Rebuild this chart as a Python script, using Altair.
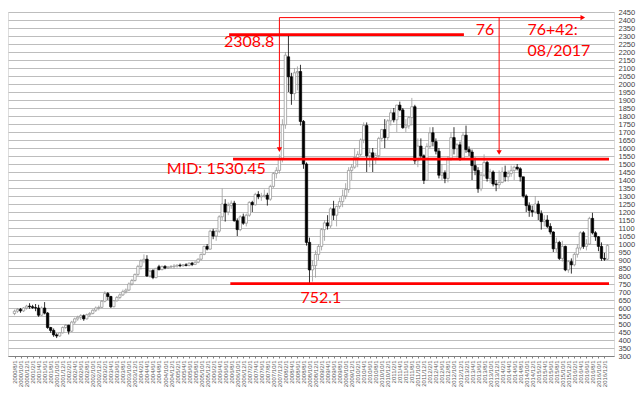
import json
import altair as alt
import pandas as pd

# ---- months (category labels) ----
months = []
_y, _m = 2000, 8
for _ in range(198):
    months.append(f"{_y}/{_m}/1")
    _m += 1
    if _m > 12:
        _m, _y = 1, _y + 1

# ---- monthly OHLC, one line per year (2000/8 .. 2017/1) ----
opens = [
    565, 580, 592, 582, 600,
    612, 608, 602, 600, 555, 600, 568, 478, 460, 432, 425, 445,
    478, 492, 455, 512, 532, 542, 552, 532, 558, 566, 586, 600,
    604, 642, 690, 672, 608, 645, 666, 682, 702, 712, 750, 772,
    810, 860, 895, 905, 800, 835, 790, 858, 840, 860, 850, 856,
    858, 862, 868, 864, 870, 866, 880, 872, 886, 905, 935, 985,
    968, 1080, 1050, 1080, 1170, 1250, 1200, 1240, 1255, 1145, 1090, 1170,
    1130, 1180, 1260, 1245, 1310, 1295, 1300, 1305, 1280, 1360, 1440, 1460,
    1530, 1745, 2170, 2045, 1940, 2070, 2078, 1766, 1500, 1010, 838, 865,
    935, 985, 1090, 1132, 1113, 1220, 1180, 1235, 1265, 1300, 1340, 1460,
    1480, 1540, 1560, 1650, 1740, 1551, 1570, 1540, 1552, 1660, 1715, 1665,
    1770, 1820, 1776, 1868, 1838, 1727, 1738, 1790, 1858, 1520, 1612, 1551,
    1398, 1610, 1695, 1640, 1580, 1430, 1445, 1410, 1530, 1665, 1595, 1620,
    1535, 1680, 1590, 1575, 1490, 1460, 1345, 1430, 1510, 1410, 1450, 1375,
    1370, 1385, 1450, 1420, 1440, 1460, 1480, 1470, 1420, 1300, 1240, 1210,
    1200, 1250, 1190, 1140, 1150, 1110, 1075, 970, 1010, 910, 985, 838,
    890, 870, 935, 975, 1070, 985, 1000, 1160, 1070, 1045, 985, 910,
    905,
]
highs = [
    590, 600, 600, 605, 620,
    630, 620, 625, 620, 610, 637, 575, 482, 472, 442, 450, 485,
    500, 495, 520, 540, 552, 562, 560, 565, 575, 592, 610, 615,
    650, 705, 700, 676, 650, 675, 692, 715, 722, 760, 782, 815,
    870, 905, 935, 930, 840, 842, 850, 870, 865, 868, 862, 868,
    875, 872, 878, 875, 880, 885, 888, 892, 910, 940, 990, 1000,
    1090, 1095, 1090, 1180, 1347, 1280, 1260, 1272, 1270, 1160, 1180, 1190,
    1190, 1268, 1270, 1320, 1330, 1320, 1340, 1320, 1370, 1450, 1480, 1560,
    1780, 2200, 2308.8, 2070, 2100, 2110, 2120, 1775, 1510, 1040, 900, 960,
    1000, 1100, 1150, 1180, 1230, 1270, 1240, 1290, 1340, 1380, 1480, 1500,
    1600, 1580, 1660, 1760, 1760, 1600, 1600, 1570, 1670, 1720, 1780, 1780,
    1840, 1850, 1870, 1890, 1850, 1780, 1800, 1913, 1870, 1660, 1660, 1560,
    1630, 1730, 1730, 1660, 1600, 1500, 1460, 1550, 1700, 1730, 1630, 1640,
    1700, 1740, 1610, 1590, 1540, 1480, 1450, 1560, 1520, 1470, 1460, 1400,
    1460, 1480, 1490, 1460, 1490, 1490, 1500, 1480, 1420, 1310, 1260, 1240,
    1300, 1270, 1210, 1180, 1180, 1130, 1080, 1040, 1020, 1020, 990, 900,
    910, 945, 1000, 1080, 1080, 1030, 1170, 1195, 1080, 1050, 1010, 945,
    1000,
]
lows = [
    555, 570, 570, 575, 590,
    595, 595, 580, 545, 550, 560, 470, 445, 420, 412, 420, 440,
    470, 435, 450, 500, 520, 525, 520, 528, 545, 560, 575, 585,
    600, 635, 650, 600, 604, 640, 655, 675, 690, 705, 740, 765,
    800, 840, 880, 795, 790, 780, 785, 835, 835, 842, 845, 848,
    845, 852, 855, 858, 860, 860, 862, 868, 880, 898, 930, 960,
    965, 1030, 1020, 1070, 1150, 1140, 1180, 1220, 1140, 1050, 1080, 1120,
    1110, 1170, 1200, 1240, 1280, 1270, 1290, 1240, 1270, 1350, 1410, 1440,
    1510, 1720, 1950, 1870, 1900, 1960, 1740, 1470, 990, 752.1, 765, 790,
    900, 960, 1020, 1090, 1100, 1150, 1110, 1220, 1230, 1280, 1320, 1400,
    1470, 1480, 1550, 1630, 1450, 1480, 1450, 1500, 1540, 1640, 1600, 1650,
    1740, 1760, 1700, 1830, 1720, 1700, 1720, 1740, 1500, 1480, 1530, 1375,
    1395, 1600, 1610, 1560, 1410, 1400, 1380, 1385, 1520, 1560, 1540, 1520,
    1530, 1570, 1550, 1400, 1430, 1320, 1330, 1420, 1390, 1380, 1360, 1330,
    1350, 1380, 1390, 1390, 1420, 1400, 1460, 1390, 1290, 1200, 1170, 1170,
    1190, 1150, 1090, 1110, 1100, 1060, 950, 950, 900, 890, 830, 820,
    815, 860, 915, 960, 970, 960, 995, 1060, 1020, 955, 895, 895,
    900,
]
closes = [
    580, 592, 582, 600, 612,
    608, 602, 600, 555, 600, 568, 478, 460, 432, 425, 445, 478,
    492, 455, 512, 532, 542, 552, 532, 558, 566, 586, 600, 604,
    642, 690, 672, 608, 645, 666, 682, 702, 712, 750, 772, 810,
    860, 895, 905, 800, 830, 790, 848, 840, 860, 850, 856, 860,
    862, 868, 864, 870, 866, 880, 872, 886, 905, 935, 985, 968,
    1080, 1050, 1080, 1170, 1250, 1200, 1240, 1255, 1145, 1090, 1170, 1130,
    1180, 1260, 1245, 1310, 1295, 1300, 1305, 1280, 1360, 1440, 1460, 1530,
    1745, 2180, 2045, 1940, 2070, 2078, 1766, 1500, 1010, 838, 865, 935,
    985, 1090, 1132, 1113, 1220, 1180, 1235, 1265, 1300, 1340, 1460, 1480,
    1540, 1560, 1650, 1740, 1551, 1570, 1540, 1552, 1660, 1715, 1665, 1770,
    1820, 1776, 1868, 1838, 1727, 1738, 1790, 1858, 1520, 1612, 1551, 1398,
    1610, 1695, 1640, 1580, 1430, 1445, 1410, 1530, 1665, 1595, 1620, 1535,
    1680, 1590, 1575, 1490, 1460, 1345, 1430, 1510, 1410, 1450, 1375, 1370,
    1385, 1450, 1420, 1440, 1460, 1480, 1470, 1420, 1300, 1240, 1210, 1200,
    1250, 1190, 1140, 1150, 1110, 1075, 970, 1010, 910, 985, 838, 890,
    870, 935, 975, 1070, 985, 1000, 1160, 1070, 1045, 985, 910, 905,
    990,
]

# ---- axis tick labels ----
y_ticks = list(range(300, 2451, 50))
x_label_idx = list(range(0, 198, 2))

# ---- annotations (month index, value) ----
hlines_x = [71.3, 72.6, 71.7]
hlines_x2 = [149.3, 197.5, 197.5]
hlines_y = [2308.8, 1530.45, 752.1]

arrow_x = [88, 88, 161]
arrow_x2 = [88, 189, 161]
arrow_y = [2415, 2415, 2415]
arrow_y2 = [1598, 2415, 1580]

head_x = [88, 188.8, 161]
head_y = [1590, 2415, 1572]
head_shape = ["triangle-down", "triangle-right", "triangle-down"]

texts = ["2308.8", "MID: 1530.45", "752.1", "76", "76+42:", "08/2017"]
text_x = [69.6, 50.6, 95.0, 153.2, 170.4, 170.4]
text_y = [2262, 1470, 662, 2340, 2340, 2205]

df = pd.DataFrame({"i": list(range(len(months))), "month": months,
                   "open": opens, "high": highs, "low": lows, "close": closes})

xs = alt.Scale(domain=[-0.5, 197.5], nice=False, zero=False)
ys = alt.Scale(domain=[300, 2450], nice=False, zero=False)

label_expr = json.dumps(months) + "[datum.value]"

x_axis = alt.Axis(values=x_label_idx, labelExpr=label_expr, labelAngle=-90,
                  labelFontSize=6, labelColor="#595959", labelFont="Liberation Sans",
                  grid=False, ticks=True, tickSize=2, tickColor="#808080",
                  domainColor="#808080", labelPadding=2, labelOverlap=False,
                  labelFlush=False, labelBound=False, title=None)
y_axis = alt.Axis(orient="right", values=y_ticks, format="d", grid=True,
                  gridColor="#bdbdbd", gridWidth=1, ticks=False, domain=False,
                  labelFontSize=7.5, labelColor="#404040", labelFont="Liberation Sans",
                  labelPadding=4, labelOverlap=False, labelFlush=False,
                  labelBound=False, title=None)


def X(f):
    return alt.X(f, scale=xs, axis=x_axis)


def Y(f):
    return alt.Y(f, scale=ys, axis=y_axis)


up = alt.datum.close >= alt.datum.open

base = alt.Chart(df)
wicks = base.mark_rule(strokeWidth=0.8).encode(
    x=X("i:Q"), y=Y("low:Q"), y2="high:Q",
    color=alt.condition(up, alt.value("#9a9a9a"), alt.value("#000000")),
)
bodies = base.mark_bar(size=2.4, strokeWidth=0.7).encode(
    x=X("i:Q"), y=Y("open:Q"), y2="close:Q",
    fill=alt.condition(up, alt.value("#ffffff"), alt.value("#000000")),
    stroke=alt.condition(up, alt.value("#8c8c8c"), alt.value("#000000")),
)

hdf = pd.DataFrame({"x": hlines_x, "x2": hlines_x2, "y": hlines_y})
hl = alt.Chart(hdf).mark_rule(color="#ff0000", strokeWidth=2.6).encode(
    x=X("x:Q"), x2="x2:Q", y=Y("y:Q"))

adf = pd.DataFrame({"x": arrow_x, "x2": arrow_x2, "y": arrow_y, "y2": arrow_y2})
al = alt.Chart(adf).mark_rule(color="#ff0000", strokeWidth=1).encode(
    x=X("x:Q"), x2="x2:Q", y=Y("y:Q"), y2="y2:Q")

hd_df = pd.DataFrame({"x": head_x, "y": head_y, "shape": head_shape})
heads = alt.Chart(hd_df).mark_point(filled=True, size=28, color="#ff0000", opacity=1).encode(
    x=X("x:Q"), y=Y("y:Q"),
    shape=alt.Shape("shape:N", scale=alt.Scale(domain=head_shape[:2],
                    range=["triangle-down", "triangle-right"]), legend=None))

tdf = pd.DataFrame({"t": texts, "x": text_x, "y": text_y})
txt = alt.Chart(tdf).mark_text(align="left", baseline="middle", color="#ff0000",
                               fontSize=16, font="Lato").encode(
    x=X("x:Q"), y=Y("y:Q"), text="t:N")

chart = alt.layer(wicks, bodies, hl, al, heads, txt).properties(
    width=606, height=344,
    padding={"left": 0, "top": 4, "right": 22, "bottom": 45},
    autosize=alt.AutoSizeParams(type="none"),
).configure_view(stroke="#7f7f7f", strokeWidth=1).configure(background="#ffffff")

chart.save("out.html", embed_options={"renderer": "svg", "actions": False})
